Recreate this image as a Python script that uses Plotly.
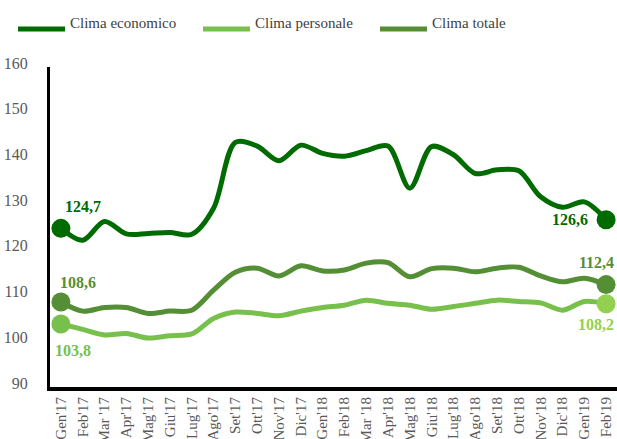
import plotly.graph_objects as go

# Mesi (asse delle categorie)
mesi = ["Gen'17", "Feb'17", "Mar '17", "Apr'17", "Mag'17", "Giu'17", "Lug'17", "Ago'17",
        "Set'17", "Ott'17", "Nov'17", "Dic'17", "Gen'18", "Feb'18", "Mar '18", "Apr'18",
        "Mag'18", "Giu'18", "Lug'18", "Ago'18", "Set'18", "Ott'18", "Nov'18", "Dic'18",
        "Gen'19", "Feb'19"]

clima_economico = [124.7, 122.1, 126.2, 123.5, 123.6, 123.8, 123.4, 129.1, 143.5, 142.7,
                   139.5, 142.9, 141.1, 140.5, 141.7, 142.7, 133.5, 142.6, 140.8, 136.7,
                   137.5, 137.3, 131.6, 129.3, 130.5, 126.6]
clima_personale = [103.8, 102.6, 101.4, 101.7, 100.7, 101.2, 101.6, 105.0, 106.4, 106.1,
                   105.6, 106.6, 107.4, 107.9, 109.0, 108.3, 107.9, 107.0, 107.6, 108.3,
                   109.0, 108.7, 108.4, 106.8, 108.7, 108.2]
clima_totale = [108.6, 106.6, 107.4, 107.4, 106.1, 106.6, 106.8, 111.2, 115.1, 116.0,
                114.3, 116.5, 115.4, 115.6, 117.1, 117.2, 114.1, 115.9, 116.0, 115.2,
                116.0, 116.2, 114.3, 113.0, 113.8, 112.4]

nomi = ["Clima economico", "Clima personale", "Clima totale"]
serie = [clima_economico, clima_personale, clima_totale]
colori = ["#006b00", "#78c04c", "#558f35"]
colori_finali = ["#006b00", "#92d050", "#558f35"]

SERIF = "Liberation Serif"

fig = go.Figure()

for nome, valori, col, col_fin in zip(nomi, serie, colori, colori_finali):
    fig.add_trace(go.Scatter(
        x=mesi, y=valori, mode="lines", name=nome,
        line=dict(color=col, width=5, shape="spline", smoothing=0.9),
        showlegend=False, hoverinfo="x+y",
    ))
    # punti iniziale e finale evidenziati
    fig.add_trace(go.Scatter(
        x=[mesi[0], mesi[-1]], y=[valori[0], valori[-1]], mode="markers",
        marker=dict(size=19, color=[col, col_fin]),
        showlegend=False, hoverinfo="x+y",
    ))


def fmt(v):
    return f"{v:.1f}".replace(".", ",")


# etichette dei valori: (indice serie, indice punto, spostamento x, spostamento y)
etichette = [
    (0, 0, 22, 22),
    (0, -1, -36, 0),
    (2, 0, 17, 19),
    (2, -1, -10, 22),
    (1, 0, 12, -27),
    (1, -1, -10, -21),
]
annotazioni = []
for s, i, dx, dy in etichette:
    annotazioni.append(dict(
        x=mesi[i], y=serie[s][i], xref="x", yref="y",
        text=f"<b>{fmt(serie[s][i])}</b>", showarrow=False,
        xshift=dx, yshift=dy,
        font=dict(family=SERIF, size=16, color=colori_finali[s] if i == -1 else colori[s]),
    ))

# legenda disegnata in alto
legenda_x = [18, 203, 380]
forme = []
W, H = 617, 439
for nome, col, lx in zip(nomi, colori, legenda_x):
    forme.append(dict(
        type="line", xref="paper", yref="paper",
        x0=(lx - 50) / 567, x1=(lx + 47 - 50) / 567,
        y0=(387 - 29) / 320, y1=(387 - 29) / 320,
        line=dict(color=col, width=5),
    ))
    annotazioni.append(dict(
        x=(lx + 50 - 50) / 567, y=(387 - 23) / 320, xref="paper", yref="paper",
        xanchor="left", yanchor="middle", text=nome, showarrow=False,
        font=dict(family=SERIF, size=15, color="#404040"),
    ))

fig.update_layout(
    width=W, height=H,
    margin=dict(l=50, r=0, t=67, b=52),
    paper_bgcolor="white", plot_bgcolor="white",
    font=dict(family=SERIF),
    annotations=annotazioni, shapes=forme,
    xaxis=dict(
        type="category", range=[-0.5, len(mesi) - 0.5],
        showgrid=False, zeroline=False,
        showline=True, linecolor="black", linewidth=4,
        tickangle=-90, ticks="", automargin=False,
        tickfont=dict(family=SERIF, size=15, color="#595959"),
    ),
    yaxis=dict(
        range=[90, 160], dtick=10, showgrid=False, zeroline=False,
        showline=True, linecolor="black", linewidth=3,
        ticks="", automargin=False, ticklabelstandoff=16, ticklabelshift=-4,
        tickfont=dict(family=SERIF, size=16, color="#595959"),
    ),
)

fig.write_html("out.html")
